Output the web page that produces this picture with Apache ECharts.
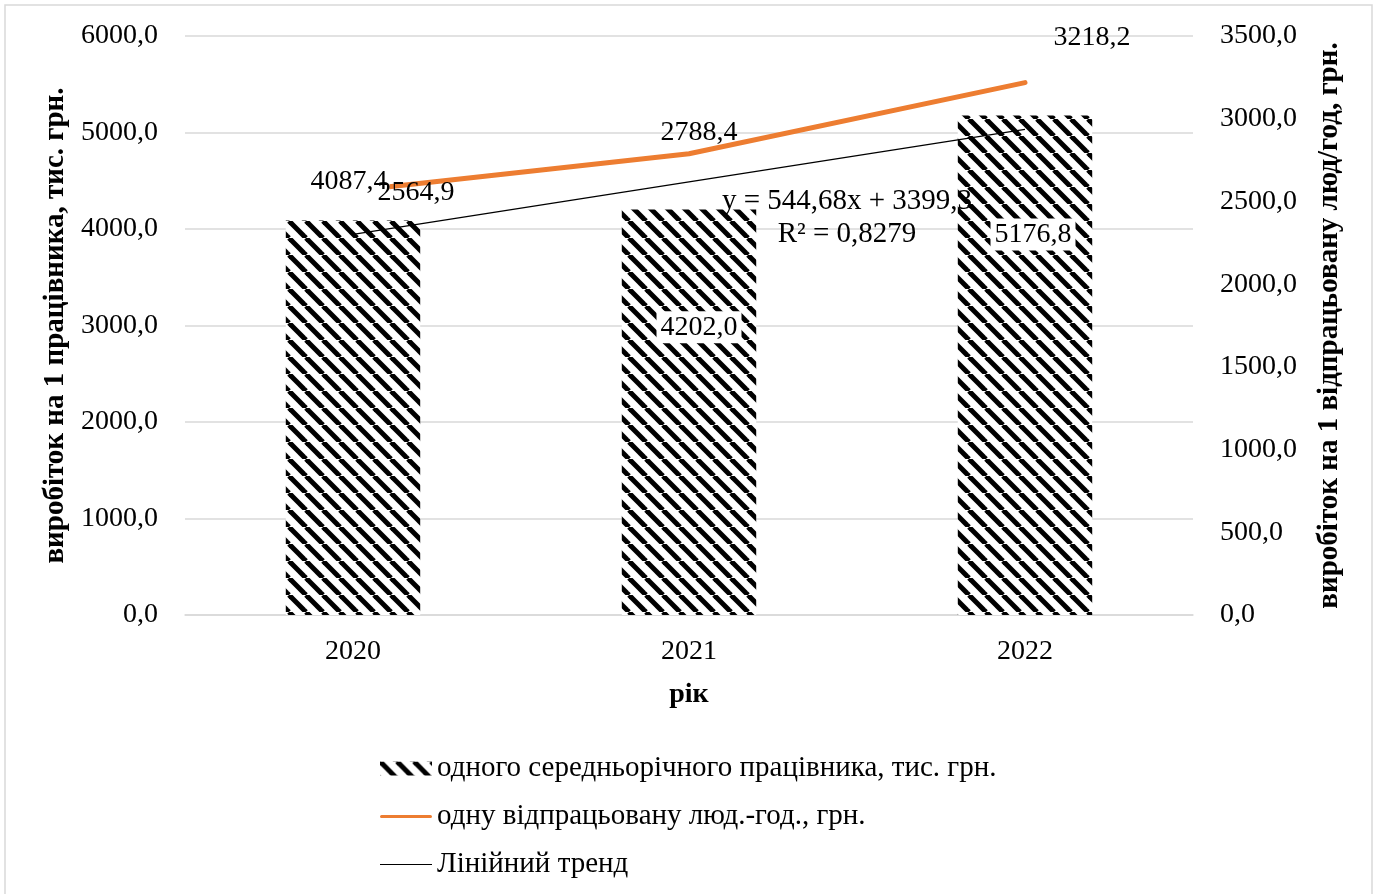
<!DOCTYPE html>
<html>
<head>
<meta charset="utf-8">
<script src="https://cdn.jsdelivr.net/npm/echarts@6/dist/echarts.min.js"></script>
<style>
	html, body { margin: 0; padding: 0; background: #fff; }
	#chart { width: 1377px; height: 894px; }
</style>
</head>
<body>
<div id="chart"></div>
<script>
	var years = ['2020', '2021', '2022'];
	var perWorker = [4087.4, 4202.0, 5176.8];
	var perHour = [2564.9, 2788.4, 3218.2];
	var trendValues = [3944.0, 4488.7, 5033.3];
	var leftTicks = [0, 1000, 2000, 3000, 4000, 5000, 6000];
	var rightTicks = [0, 500, 1000, 1500, 2000, 2500, 3000, 3500];

	var FONT = '"Liberation Serif", "Times New Roman", serif';

	function fmt(v) {
		return Number(v).toFixed(1).replace('.', ',');
	}

	// diagonal stripe fill for bars
	function stripes() {
		var s = 17;
		var c = document.createElement('canvas');
		c.width = s; c.height = s;
		var ctx = c.getContext('2d');
		ctx.fillStyle = '#fff';
		ctx.fillRect(0, 0, s, s);
		ctx.strokeStyle = '#000';
		ctx.lineWidth = 5;
		for (var k = -1; k <= 1; k++) {
			ctx.beginPath();
			ctx.moveTo(k * s, 0);
			ctx.lineTo(k * s + s, s);
			ctx.stroke();
		}
		return { image: c, repeat: 'repeat' };
	}

	var barLabels = [
		{ position: 'top', offset: [-4, -20], backgroundColor: '#fff', padding: [0, 2] },
		{ position: 'inside', offset: [10, -85], backgroundColor: '#fff', padding: [2, 4] },
		{ position: 'insideTop', offset: [8, 98], backgroundColor: '#fff', padding: [2, 4] }
	];
	var lineLabels = [
		{ position: 'top', offset: [63, 21] },
		{ position: 'top', offset: [10, -2] },
		{ position: 'top', offset: [67, -26] }
	];

	var chart = echarts.init(document.getElementById('chart'));
	var pattern = stripes();

	var option = {
		backgroundColor: '#fff',
		animation: false,
		textStyle: { fontFamily: FONT, color: '#000' },
		graphic: [{
			type: 'rect',
			shape: { x: 5, y: 5, width: 1367, height: 900 },
			style: { fill: 'none', stroke: '#d9d9d9', lineWidth: 1.5 },
			z: 0
		}, {
			type: 'text',
			x: 847, y: 201,
			z: 100,
			style: {
				text: 'y = 544,68x + 3399,3',
				font: '29px ' + FONT,
				fill: '#000',
				align: 'center',
				verticalAlign: 'middle'
			}
		}, {
			type: 'text',
			x: 847, y: 234,
			z: 100,
			style: {
				text: 'R² = 0,8279',
				font: '29px ' + FONT,
				fill: '#000',
				align: 'center',
				verticalAlign: 'middle'
			}
		}],
		grid: { left: 185, right: 184, top: 36, bottom: 279 },
		legend: {
			orient: 'vertical',
			left: 375,
			top: 749,
			itemWidth: 52,
			itemHeight: 14,
			itemGap: 19,
			textStyle: { fontFamily: FONT, fontSize: 29, color: '#000' },
			data: [
				{ name: 'одного середньорічного працівника, тис. грн.', icon: 'rect' },
				{ name: 'одну відпрацьовану люд.-год., грн.', icon: 'path://M3,0 L97,0 A3,3 0 0 1 97,6 L3,6 A3,3 0 0 1 3,0 Z' },
				{ name: 'Лінійний тренд', icon: 'path://M0,0 L100,0 L100,2.2 L0,2.2 Z' }
			]
		},
		xAxis: {
			type: 'category',
			data: years,
			name: 'рік',
			nameLocation: 'middle',
			nameGap: 66,
			nameTextStyle: { fontFamily: FONT, fontSize: 28, fontWeight: 'bold', color: '#000' },
			axisLine: { lineStyle: { color: '#d9d9d9', width: 1.5 } },
			axisTick: { show: false },
			axisLabel: { fontFamily: FONT, fontSize: 28, color: '#000', margin: 23 }
		},
		yAxis: [{
			type: 'value',
			min: leftTicks[0],
			max: leftTicks[leftTicks.length - 1],
			interval: leftTicks[1] - leftTicks[0],
			name: 'виробіток на 1 працівника, тис. грн.',
			nameLocation: 'middle',
			nameRotate: 90,
			nameGap: 111,
			nameTextStyle: { fontFamily: FONT, fontSize: 29, fontWeight: 'bold', color: '#000' },
			axisLine: { show: false },
			axisTick: { show: false },
			axisLabel: { fontFamily: FONT, fontSize: 28, color: '#000', margin: 27, formatter: fmt },
			splitLine: { lineStyle: { color: '#d9d9d9', width: 1.5 } }
		}, {
			type: 'value',
			position: 'right',
			min: rightTicks[0],
			max: rightTicks[rightTicks.length - 1],
			interval: rightTicks[1] - rightTicks[0],
			name: 'виробіток на 1 відпрацьовану люд/год, грн.',
			nameLocation: 'middle',
			nameRotate: 90,
			nameGap: 122,
			nameTextStyle: { fontFamily: FONT, fontSize: 29, fontWeight: 'bold', color: '#000' },
			axisLine: { show: false },
			axisTick: { show: false },
			axisLabel: { fontFamily: FONT, fontSize: 28, color: '#000', margin: 27, formatter: fmt },
			splitLine: { show: false }
		}],
		series: [{
			name: 'одну відпрацьовану люд.-год., грн.',
			type: 'line',
			yAxisIndex: 1,
			z: 2,
			symbol: 'none',
			color: '#ED7D31',
			lineStyle: { color: '#ED7D31', width: 5, cap: 'round' },
			data: perHour
		}, {
			name: 'одного середньорічного працівника, тис. грн.',
			type: 'bar',
			z: 3,
			barWidth: '40%',
			itemStyle: { color: pattern },
			label: {
				show: true,
				fontFamily: FONT,
				fontSize: 28,
				color: '#000',
				formatter: function (p) { return fmt(p.value); }
			},
			data: perWorker.map(function (v, i) {
				return { value: v, label: barLabels[i] };
			})
		}, {
			name: 'Лінійний тренд',
			type: 'line',
			z: 4,
			symbol: 'none',
			color: '#000',
			lineStyle: { color: '#000', width: 1.3 },
			data: trendValues
		}, {
			name: 'hour-labels',
			type: 'scatter',
			yAxisIndex: 1,
			z: 6,
			symbolSize: 0,
			silent: true,
			itemStyle: { opacity: 1 },
			label: {
				show: true,
				fontFamily: FONT,
				fontSize: 28,
				color: '#000',
				opacity: 1,
				formatter: function (p) { return fmt(p.value); }
			},
			data: perHour.map(function (v, i) {
				return { value: v, label: lineLabels[i] };
			})
		}]
	};

	chart.setOption(option);
</script>
</body>
</html>
